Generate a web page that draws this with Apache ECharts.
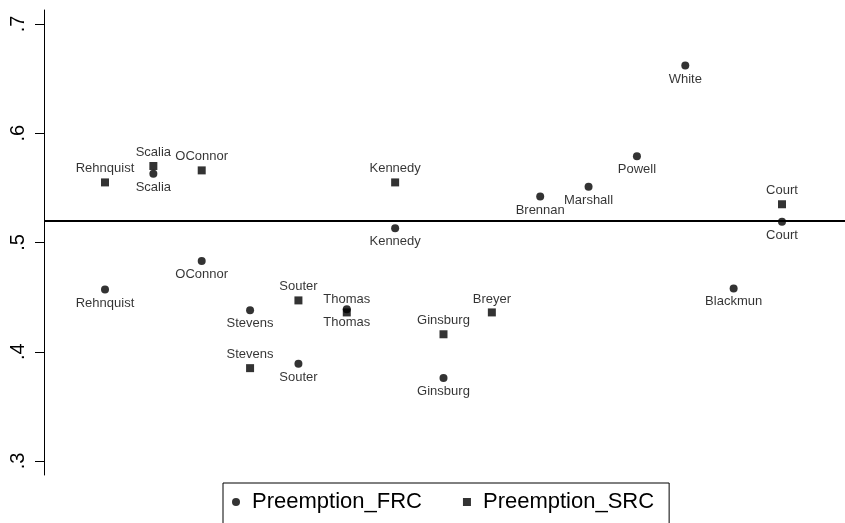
<!DOCTYPE html>
<html>
<head>
<meta charset="utf-8">
<script src="https://cdn.jsdelivr.net/npm/echarts@6/dist/echarts.min.js"></script>
<style>
html,body{margin:0;padding:0;background:#fff;}
#chart{width:845px;height:523px;}
</style>
</head>
<body>
<div id="chart"></div>
<script>
const justices = ['Rehnquist','Scalia','OConnor','Stevens','Souter','Thomas','Kennedy','Ginsburg','Breyer','Brennan','Marshall','Powell','White','Blackmun','Court'];
const preemptionFRC = [0.457, 0.563, 0.483, 0.438, 0.389, 0.439, 0.513, 0.376, null, 0.542, 0.551, 0.579, 0.662, 0.458, 0.519];
const preemptionSRC = [0.555, 0.570, 0.566, 0.385, 0.447, 0.436, 0.555, 0.416, 0.436, null, null, null, null, null, 0.535];
const yTicks = [0.3, 0.4, 0.5, 0.6, 0.7];
const yTickLabels = ['.3', '.4', '.5', '.6', '.7'];
const referenceLine = 0.522;

const FONT = '"Liberation Sans", Arial, Helvetica, sans-serif';

function toPoints(values) {
  const out = [];
  values.forEach((v, i) => {
    if (v !== null) out.push({ value: [i + 1, v], name: justices[i] });
  });
  return out;
}

const chart = echarts.init(document.getElementById('chart'), null, { renderer: 'canvas' });
chart.setOption({
  animation: false,
  backgroundColor: '#fff',
  grid: { left: 44, right: 0, top: 10, bottom: 48, containLabel: false },
  xAxis: {
    type: 'value', min: -0.2615, max: 16.303, show: false
  },
  yAxis: {
    type: 'value', min: 0.2872, max: 0.7128,
    axisLine: { show: true, onZero: false, lineStyle: { color: '#000', width: 1 } },
    axisTick: { show: true, customValues: yTicks, length: 9, lineStyle: { color: '#000', width: 1 } },
    axisLabel: {
      show: true, customValues: yTicks, rotate: 90, margin: 16,
      fontSize: 20, color: '#000', fontFamily: FONT,
      formatter: v => {
        const idx = yTicks.findIndex(t => Math.abs(t - v) < 1e-6);
        return idx >= 0 ? yTickLabels[idx] : '';
      }
    },
    splitLine: { show: false }
  },
  legend: {
    left: 223, top: 483,
    orient: 'horizontal',
    borderColor: '#000', borderWidth: 1,
    padding: [8, 15, 40, 9],
    itemWidth: 8, itemHeight: 8, itemGap: 41,
    textStyle: { fontSize: 22, color: '#000', fontFamily: FONT, padding: [0, 0, 0, 7] },
    data: [{ name: 'Preemption_FRC', icon: 'circle' }, { name: 'Preemption_SRC', icon: 'rect' }]
  },
  series: [
    {
      name: 'Preemption_FRC', type: 'scatter', symbol: 'circle', symbolSize: 8,
      itemStyle: { color: '#000' },
      label: { show: true, position: 'bottom', distance: 3, formatter: p => p.name, fontSize: 13, color: '#000', fontFamily: FONT },
      data: toPoints(preemptionFRC),
      markLine: {
        silent: true, symbol: 'none', label: { show: false },
        lineStyle: { color: '#000', width: 2, type: 'solid' },
        data: [{ yAxis: referenceLine }]
      }
    },
    {
      name: 'Preemption_SRC', type: 'scatter', symbol: 'rect', symbolSize: 8,
      itemStyle: { color: '#000' },
      label: { show: true, position: 'top', distance: 3, formatter: p => p.name, fontSize: 13, color: '#000', fontFamily: FONT },
      data: toPoints(preemptionSRC)
    }
  ]
});
</script>
</body>
</html>
